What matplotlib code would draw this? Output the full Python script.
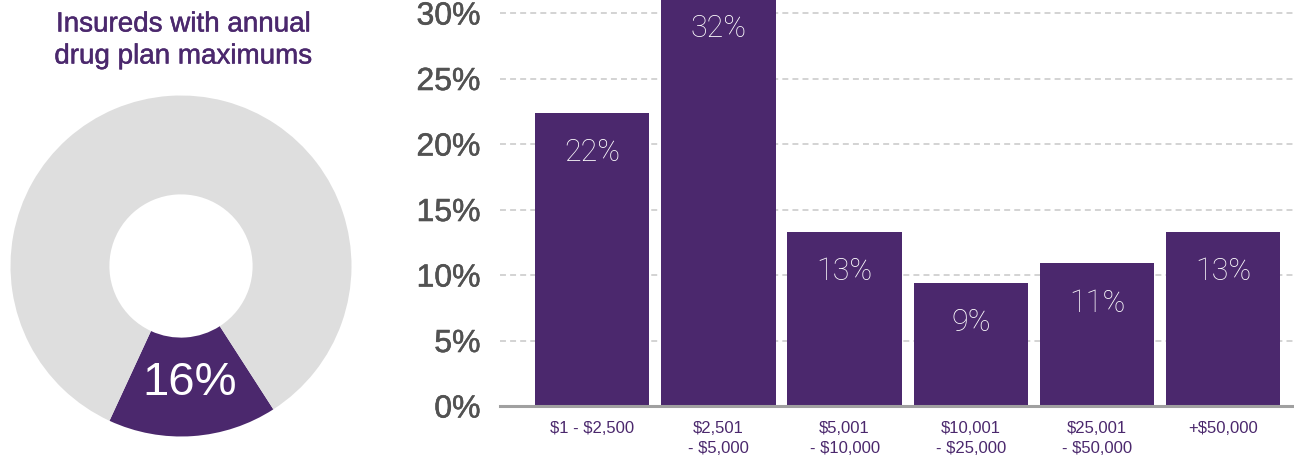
import matplotlib
matplotlib.use("Agg")
import matplotlib.pyplot as plt
import matplotlib.patheffects as pe

# data
donut_title = "Insureds with annual\ndrug plan maximums"
donut_values = [16, 84]
donut_label = "16%"

categories = ["\\$1 - \\$2,500", "\\$2,501\n- \\$5,000", "\\$5,001\n- \\$10,000",
              "\\$10,001\n- \\$25,000", "\\$25,001\n- \\$50,000", "+\\$50,000"]
shares = [22.4, 31.9, 13.3, 9.4, 10.9, 13.3]
bar_labels = ["22%", "32%", "13%", "9%", "11%", "13%"]
yticks = [0, 5, 10, 15, 20, 25, 30]

purple = "#4b286d"
grey = "#dedede"

W, H = 1294, 464
fig = plt.figure(figsize=(W / 100, H / 100), dpi=100)
plt.rcParams['font.family'] = ['Liberation Sans', 'DejaVu Sans']

# donut
cx, cy, r = 181, 267, 170.5
ax1 = fig.add_axes([(cx - r) / W, (H - cy - r) / H, 2 * r / W, 2 * r / H])
ax1.pie(donut_values, colors=[purple, grey], startangle=245.2, counterclock=True,
        radius=1, wedgeprops=dict(width=0.58, linewidth=0))
ax1.set_xlim(-1, 1)
ax1.set_ylim(-1, 1)
ax1.set_aspect("equal")
ax1.axis("off")
ax1.text(0.053, -0.68, donut_label, color="white", fontsize=34,
         ha="center", va="center")
fig.text(183 / W, 1 - 41.5 / H, donut_title, color=purple, fontsize=20,
         ha="center", va="center", linespacing=1.3,
         path_effects=[pe.withStroke(linewidth=0.35, foreground=purple)])

# bars
ax = fig.add_axes([500 / W, 57 / H, 794 / W, 407 / H])
x = list(range(len(categories)))
ax.bar(x, shares, width=0.905, color=purple, zorder=2)
ax.set_xlim(-0.73, 5.56)
ax.set_ylim(0, 31.07)
for yv in yticks[1:]:
    ax.axhline(yv, color="#c8c8c8", lw=1.1, ls=(0, (3.9, 2.7)), zorder=1)
ax.axhline(0, color="#a0a0a0", lw=2.2, zorder=3, clip_on=False)
for s in ax.spines.values():
    s.set_visible(False)
ax.set_yticks(yticks)
ax.set_yticklabels([f"{v}%" for v in yticks], fontsize=23, color="#525252")
for t in ax.get_yticklabels():
    t.set_path_effects([pe.withStroke(linewidth=0.4, foreground="#525252")])
ax.tick_params(axis="y", length=0, pad=14)
ax.set_xticks(x)
ax.set_xticklabels(categories, fontsize=12, color=purple,
                   linespacing=1.45, va="top")
ax.tick_params(axis="x", length=0, pad=10)
for xi, v, lab in zip(x, shares, bar_labels):
    ax.annotate(lab, (xi, v), xytext=(0, -28), textcoords="offset points",
                ha="center", va="center", color="white", fontsize=22,
                fontweight="light", family=['Roboto', 'Liberation Sans'],
                annotation_clip=False, zorder=4)

fig.savefig("out.png", dpi=100)
